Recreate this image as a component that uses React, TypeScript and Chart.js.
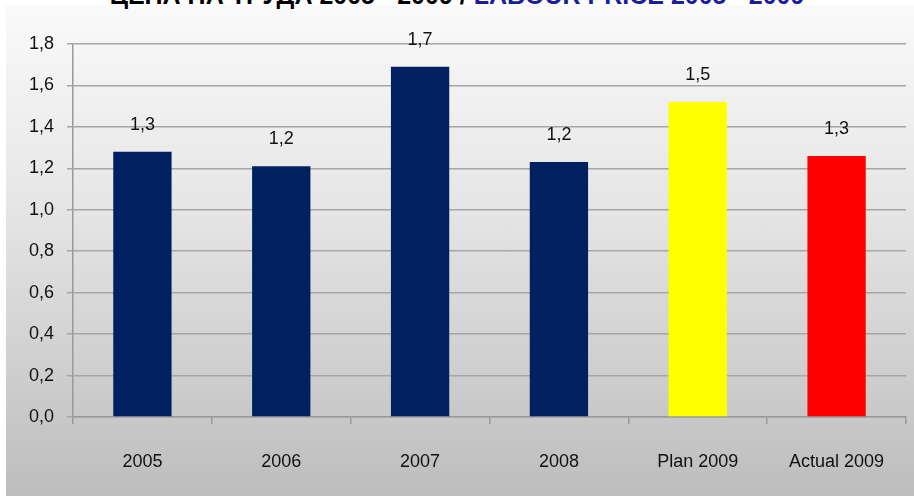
import React, { useEffect, useRef } from "react";
import { Chart, registerables } from "chart.js";

Chart.register(...registerables);

const categories = ["2005", "2006", "2007", "2008", "Plan 2009", "Actual 2009"];
const values = [1.28, 1.21, 1.69, 1.23, 1.52, 1.26];
const barColors = ["#002060", "#002060", "#002060", "#002060", "#ffff00", "#ff0000"];
const yTicksMin = 0;
const yTicksMax = 1.8;
const yStep = 0.2;
const titleBlack = "ЦЕНА НА ТРУДА 2005 - 2009 / ";
const titleBlue = "LABOUR PRICE 2005 - 2009";

const fmt = (v: number) => v.toFixed(1).replace(".", ",");

const FONT = "'Liberation Sans', Arial, sans-serif";

const valueLabels = {
  id: "valueLabels",
  afterDatasetsDraw(chart: any) {
    const ctx = chart.ctx;
    const meta = chart.getDatasetMeta(0);
    ctx.save();
    ctx.font = `18px ${FONT}`;
    ctx.fillStyle = "#111";
    ctx.textAlign = "center";
    ctx.textBaseline = "middle";
    meta.data.forEach((bar: any, i: number) => {
      ctx.fillText(fmt(values[i]), bar.x, bar.y - 27);
    });
    ctx.restore();
  },
};

export default function App() {
  const ref = useRef<HTMLCanvasElement | null>(null);

  useEffect(() => {
    document.body.style.margin = "0";
    if (!ref.current) return;
    const chart = new Chart(ref.current, {
      type: "bar",
      data: {
        labels: categories,
        datasets: [
          {
            data: values,
            backgroundColor: barColors,
            borderWidth: 0,
            barPercentage: 0.42,
            categoryPercentage: 1,
          },
        ],
      },
      options: {
        animation: false,
        responsive: false,
        maintainAspectRatio: false,
        layout: { padding: { top: 44, right: 8, left: 0, bottom: 0 } },
        plugins: {
          legend: { display: false },
          title: { display: false },
          tooltip: { enabled: false },
        },
        scales: {
          x: {
            grid: {
              display: true,
              drawOnChartArea: false,
              drawTicks: true,
              tickLength: 7,
              color: "#999",
              lineWidth: 1.5,
              offset: true,
            },
            border: { display: true, color: "#999", width: 1.5 },
            ticks: {
              color: "#111",
              font: { family: FONT, size: 18 },
              padding: 27,
              maxRotation: 0,
              autoSkip: false,
            },
            afterFit: (scale: any) => {
              scale.height = 79;
            },
          },
          y: {
            min: yTicksMin,
            max: yTicksMax,
            grid: {
              color: "#a6a6a6",
              lineWidth: 1.5,
              drawTicks: true,
              tickLength: 6,
            },
            border: { display: true, color: "#999", width: 1.5 },
            ticks: {
              stepSize: yStep,
              color: "#111",
              font: { family: FONT, size: 18 },
              padding: 13,
              callback: (v: any) => fmt(Number(v)),
            },
            afterFit: (scale: any) => {
              scale.width = 73;
            },
          },
        },
      },
      plugins: [valueLabels],
    });
    return () => chart.destroy();
  }, []);

  return (
    <div
      style={{
        position: "relative",
        width: 914,
        height: 496,
        background: "#ffffff",
        overflow: "hidden",
      }}
    >
      <div
        style={{
          position: "absolute",
          left: 6,
          top: 5,
          right: 0,
          bottom: 0,
          background: "linear-gradient(to bottom, #fafafa 0%, #e6e6e6 40%, #bdbdbd 100%)",
        }}
      />
      <div
        style={{
          position: "absolute",
          left: 0,
          width: 914,
          top: -17,
          height: 25,
          lineHeight: "25px",
          textAlign: "center",
          fontFamily: FONT,
          fontWeight: "bold",
          fontSize: 25,
          whiteSpace: "nowrap",
        }}
      >
        <span style={{ color: "#000" }}>{titleBlack}</span>
        <span style={{ color: "#1c1c9c" }}>{titleBlue}</span>
      </div>
      <canvas
        ref={ref}
        width={914}
        height={496}
        style={{ position: "absolute", left: 0, top: 0, width: 914, height: 496 }}
      />
    </div>
  );
}
